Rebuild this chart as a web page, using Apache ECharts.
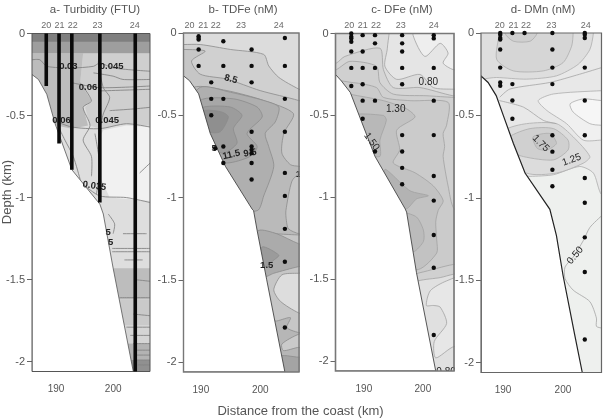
<!DOCTYPE html>
<html>
<head>
<meta charset="utf-8">
<style>html,body{margin:0;padding:0;background:#fff}#c{width:605px;height:418px}</style>
<script src="https://cdn.jsdelivr.net/npm/echarts@6/dist/echarts.min.js"></script>
</head>
<body>
<div id="c"></div>
<script>
// Transect sections across the continental slope: distance in km, depth in km (negative down).
const depthTicks = [0, -0.5, -1, -1.5, -2];
const distanceTicks = [190, 200];
const panelTitles = ['a- Turbidity (FTU)', 'b- TDFe (nM)', 'c- DFe (nM)', 'd- DMn (nM)'];
const stationNames = ['20', '21', '22', '23', '24'];

// ---- a: turbidity ----
const turbidityFloor = [[184.5,-.25],[185.8,-.28],[187.5,-.37],[189.2,-.55],[192.6,-.83],[198.3,-1.04],[199,-1.10],[201,-1.43],[205.1,-2.06],[184.5,-2.06]];
const turbidityStationAt = [187.4,190.1,192.8,197.8,205.4];
const castKm = [187.4,190,192.6,198.3,205.5];
const castBottom = [-.32,-.67,-.83,-1.03,-2.06];
const turbidityBands = [
  [[184.5,0],[208.5,0],[208.5,-2.06],[184.5,-2.06]],
  [[198,-.65],[199,-.59],[203.7,-.56],[208.5,-.57],[208.5,-1.02],[200.3,-1.0],[198.6,-.89]],
  [[194.9,-.12],[208.5,-.12],[208.5,-.56],[203.7,-.55],[198.3,-.58],[196.3,-.56],[195.3,-.45],[196.6,-.41],[194.3,-.30]],
  [[184.5,-.12],[194.9,-.12],[194.3,-.30],[196.6,-.41],[194.9,-.45],[195.9,-.56],[192.6,-.58],[189.5,-.56],[187.5,-.61],[184.5,-.61]],
  [[184.5,0],[208.5,0],[208.5,-.12],[184.5,-.12]],
  [[184.5,0],[208.5,0],[208.5,-.05],[184.5,-.05]],
  [[195,-1.43],[208.5,-1.43],[208.5,-1.62],[195,-1.62]],
  [[195,-1.62],[208.5,-1.62],[208.5,-1.78],[195,-1.78]],
  [[195,-1.78],[208.5,-1.78],[208.5,-1.89],[195,-1.89]],
  [[195,-1.89],[208.5,-1.89],[208.5,-1.99],[195,-1.99]],
  [[195,-1.99],[208.5,-1.99],[208.5,-2.06],[195,-2.06]]
];
const turbidityShades = ['#dedede','#f1f1f1','#cfcfcf','#bcbcbc','#9e9e9e','#7f7f7f','#bdbdbd','#cacaca','#d5d5d5','#b3b3b3','#909090'];
const turbidityContours = [
  [[184.5,-.16],[186.1,-.16],[187.5,-.20],[192.6,-.21],[197,-.20],[198.3,-.18],[201,-.21],[208.5,-.23]],
  [[197,-.24],[201,-.26],[203,-.28],[208.5,-.28]],
  [[192.6,-.30],[198.3,-.33],[208.5,-.32]],
  [[198.3,-.35],[208.5,-.34]],
  [[194.3,-.30],[196.6,-.41],[194.9,-.45],[196.3,-.56],[194.9,-.65],[196.6,-.75],[196.6,-.87]],
  [[198.3,-.12],[198,-.18],[199,-.33],[200.3,-.39],[199,-.49],[198.3,-.58]],
  [[197.3,-.61],[198.3,-.81],[197.6,-.98]],
  [[200.3,-.47],[205.1,-.46],[208.5,-.45]],
  [[188.9,-.53],[192.6,-.57],[198.3,-.58],[203.7,-.55],[208.5,-.57]],
  [[189.9,-.57],[191.2,-.65],[192.9,-.75],[194.3,-.89]],
  [[194.9,-.92],[198.3,-.99],[203.7,-1.0],[208.5,-1.03]],
  [[206.4,-.85],[208.5,-.79]],
  [[200,-1.1],[201.3,-1.16],[201,-1.22]],
  [[203,-1.22],[207.8,-1.22]],
  [[200.8,-1.31],[208.5,-1.31]],
  [[200.8,-1.33],[208.5,-1.33]],
  [[203.3,-1.38],[207,-1.38]],
  [[205.4,-1.50],[208.5,-1.51]],
  [[202.3,-1.61],[208.5,-1.61]],
  [[205.1,-1.71],[208.5,-1.72]],
  [[203.7,-1.79],[208.5,-1.79]],
  [[204.5,-1.84],[208.5,-1.84]],
  [[205.1,-1.89],[208.5,-1.89]],
  [[205.5,-1.93],[208.5,-1.93]],
  [[205.8,-1.96],[208.5,-1.96]],
  [[205.8,-1.99],[208.5,-1.99]],
  [[206,-2.02],[208.5,-2.02]]
];
const turbidityLabels = [
  ['0.03',191.9,-.20,0],['0.045',200.7,-.20,0],['0.06',195.9,-.33,0],['0.06',190.5,-.53,0],
  ['0.045',199.8,-.53,0],['0.035',197.2,-.93,-8],['5',200,-1.21,0],['5',200.5,-1.27,0]
];

// ---- b: total dissolvable iron ----
const tdfeFloor = [[186.1,-.26],[187.3,-.29],[189.1,-.37],[191.4,-.61],[194.4,-.81],[199.7,-1.07],[200,-1.08],[200.7,-1.2],[202.6,-1.5],[206.2,-2.06],[186.1,-2.06]];
const tdfeStationAt = [187.3,190,192.5,197.5,205];
const tdfeProfiles = [
  [189.1,[-.02,-.03,-.04,-.10,-.20]],
  [191.6,[-.30,-.40,-.50]],
  [192.4,[-.70]],
  [194,[-.05,-.20,-.40,-.69,-.79]],
  [199.6,[-.10,-.20,-.30,-.60,-.69,-.71,-.73,-.79,-.89]],
  [206.2,[-.03,-.20,-.40,-.60,-.85,-.99,-1.19,-1.39,-1.79]]
];
const tdfeBands = [
  [[183,.1],[212,.1],[212,-2.3],[183,-2.3]],
  [[183,-.07],[186.1,-.07],[189.4,-.07],[195.4,-.10],[202,-.13],[203,-.20],[205,-.27],[208.9,-.34],[212,-.38],[212,-2.3],[183,-2.3]],
  [[183,-.10],[186.1,-.10],[190.4,-.11],[187.7,-.17],[189.4,-.25],[194.7,-.28],[201.3,-.35],[208.9,-.41],[212,-.45],[212,-2.3],[183,-2.3]],
  [[183,-.5],[188.1,-.33],[194.7,-.35],[202,-.41],[207.9,-.49],[206,-.61],[205.6,-.73],[207.3,-.80],[209,-.81],[212,-.82],[212,-.88],[209,-.86],[207.6,-.90],[206.4,-1.08],[206.5,-1.14],[206.9,-1.19],[209,-1.22],[212,-1.23],[204.6,-1.22],[201,-1.2],[190,-1.2]],
  [[186,-.5],[189.4,-.33],[195.4,-.36],[202,-.41],[205,-.45],[204.3,-.54],[202.3,-.61],[203,-.69],[204,-.81],[202,-.99],[200.7,-1.08],[189,-1.08]],
  [[189.4,-.41],[196,-.40],[200.7,-.45],[201.7,-.51],[198.7,-.61],[200.7,-.69],[199.3,-.75],[194.7,-.79],[192,-.75],[188,-.6]],
  [[190.1,-.45],[195.4,-.45],[197.7,-.50],[196,-.58],[196.7,-.67],[194,-.73],[191.4,-.69],[189,-.5]],
  [[190.4,-.47],[193.7,-.48],[195,-.51],[193.4,-.60],[191.1,-.60],[189.5,-.5]],
  [[201,-1.2],[204.6,-1.22],[208.9,-1.28],[212,-1.3],[212,-1.41],[208.9,-1.42],[204,-1.46],[202,-1.48],[200,-1.3]],
  [[201.7,-1.3],[205,-1.35],[204,-1.38],[202.3,-1.42],[201,-1.42]],
  [[204,-1.56],[205.6,-1.47],[208.9,-1.46],[212,-1.46],[212,-1.72],[208.9,-1.70],[205.3,-1.63]],
  [[204.6,-1.75],[207.3,-1.73],[206.6,-1.79],[208.9,-1.82],[212,-1.83],[212,-2.3],[203,-2.3],[203.5,-1.75]],
  [[205.6,-1.89],[209,-1.83],[212,-1.82],[212,-1.92],[209,-1.91],[205.9,-1.93]],
  [[205,-1.97],[209,-1.97],[212,-1.97],[212,-2.3],[205,-2.3]]
];
const tdfeShades = ['#dcdcdc','#d0d0d0','#c6c6c6','#bababa','#afafaf','#a7a7a7','#9c9c9c','#8f8f8f','#ababab','#9b9b9b','#dddddd','#b6b6b6','#cacaca','#a4a4a4'];
const tdfeLabels = [
  ['8.5',195.5,-.28,-15],['11.5',195.6,-.74,12],['9.5',199.3,-.73,10],['5',192.2,-.7,0],['1.5',202.6,-1.41,0],['1',208.9,-.86,0]
];

// ---- c: dissolved iron ----
const dfeFloor = [[185.2,-.25],[186.4,-.29],[188.2,-.36],[190.5,-.54],[193.2,-.75],[199.3,-1.07],[199.6,-1.09],[201.6,-1.46],[205.5,-2.06],[185.2,-2.06]];
const dfeStationAt = [188,190.7,193.4,198.4,205.1];
const dfeProfiles = [
  [188.4,[0,-.02,-.03,-.05,-.11,-.21,-.32]],
  [190.7,[-.01,-.11,-.21,-.31,-.41,-.52]],
  [193.2,[-.01,-.06,-.21,-.41,-.72]],
  [198.7,[-.01,-.06,-.11,-.21,-.31,-.62,-.72,-.82,-.92]],
  [205.1,[-.01,-.03,-.21,-.41,-.62,-.87,-1.02,-1.23,-1.43,-1.84]]
];
const dfeBands = [
  [[183,.1],[212,.1],[212,-2.3],[183,-2.3]],
  [[200.9,.1],[200.9,-.01],[203.3,-.14],[206.4,-.06],[208,-.12],[207,-.18],[209,-.22],[212,-.23],[212,-2.3],[183,-2.3],[183,.1]],
  [[195.7,.1],[195.7,-.09],[195.2,-.20],[197.6,-.28],[202.3,-.25],[205,-.33],[209.2,-.34],[212,-.34],[212,-2.3],[183,-2.3],[183,.1]],
  [[183,-.2],[185.4,-.18],[187.1,-.14],[194.2,-.09],[194.9,-.22],[196.9,-.33],[202.3,-.33],[209,-.38],[212,-.38],[212,-2.3],[183,-2.3]],
  [[183,-.24],[185.4,-.22],[188.1,-.17],[193.5,-.2],[194.2,-.3],[196.9,-.37],[203.7,-.38],[209.2,-.39],[212,-.39],[212,-2.3],[183,-2.3]],
  [[183,-.3],[188.8,-.3],[193.5,-.33],[194.9,-.39],[200.3,-.41],[208,-.42],[207.7,-.56],[207,-.61],[207.3,-.69],[207,-.75],[208,-.93],[209.2,-1.07],[212,-1.1],[212,-1.41],[209,-1.41],[202.3,-1.46],[195,-1.5],[183,-1]],
  [[202,-1.51],[206.4,-1.49],[209,-1.47],[212,-1.46],[212,-2.3],[190,-2.3],[195,-1.6]],
  [[203.6,-1.66],[204.4,-1.57],[207.7,-1.51],[212,-1.48],[212,-1.95],[209.3,-1.91],[205.5,-1.98],[205.2,-1.88],[207.7,-1.77],[206.4,-1.67],[205,-1.66]],
  [[183,-.33],[188.1,-.37],[194.9,-.41],[199.6,-.46],[201.3,-.51],[197.6,-.59],[198.2,-.71],[196.9,-.79],[201.3,-.85],[205,-.93],[207,-1.02],[206,-1.08],[205.5,-1.15],[205.7,-1.26],[205.7,-1.34],[202,-1.44],[190,-1.44],[183,-1]],
  [[188,-.5],[194.9,-.5],[195.5,-.53],[194.2,-.65],[194.2,-.75],[191.1,-.73],[188,-.6]],
  [[195.2,-.83],[200.3,-.96],[204,-.99],[201.6,-1.01],[199.6,-1.07],[197,-1.05]],
  [[201.6,-1.12],[203,-1.2],[203,-1.27],[200.9,-1.33],[199,-1.1]]
];
const dfeShades = ['#eeeeee','#e5e5e5','#dcdcdc','#d5d5d5','#d0d0d0','#cbcbcb','#e0e0e0','#e7e7e7','#c2c2c2','#b8b8b8','#b3b3b3','#bbbbbb'];
const dfeLabels = [
  ['0.80',204,-.3,0],['1.30',197.4,-.46,0],['1.50',192.5,-.66,-55],['0.80',207.6,-2.07,0]
];

// ---- d: dissolved manganese ----
const dmnFloor = [[185.4,-.26],[186.8,-.30],[188.4,-.38],[189.8,-.5],[191.8,-.67],[194.1,-.85],[199,-1.07],[200.3,-1.23],[201.6,-1.47],[203.9,-1.83],[205.4,-2.06],[185.4,-2.06]];
const dmnStationAt = [189.1,191.8,194.3,199.3,206.1];
const dmnProfiles = [
  [189.2,[0,-.01,-.03,-.04,-.10,-.21,-.30,-.32]],
  [191.6,[0,-.31,-.41,-.52]],
  [194,[0]],
  [199.5,[0,-.10,-.21,-.31,-.62,-.72,-.83,-.93]],
  [205.9,[0,-.01,-.03,-.21,-.41,-.62,-.88,-1.03,-1.24,-1.45,-1.86]]
];
const dmnBands = [
  [[183,.1],[212,.1],[212,-2.3],[183,-2.3]],
  [[195.1,-.87],[199.7,-.86],[204.9,-.81],[207.6,-.85],[209.2,-.98],[212,-1.0],[212,-2.3],[185,-2.3],[190,-.87]],
  [[212,-.35],[209.2,-.35],[199.7,-.37],[196.7,-.41],[198.4,-.47],[202.3,-.55],[205.6,-.65],[209.2,-.65],[212,-.65]],
  [[203,-.43],[205.6,-.4],[209.2,-.41],[212,-.41],[212,-.56],[209.2,-.56],[206.9,-.55],[203.6,-.48]],
  [[207.6,.1],[207.6,0],[206.9,-.1],[204.6,-.19],[200.3,-.26],[194.4,-.28],[188.5,-.27],[183,-.27],[183,.1]],
  [[203.6,.1],[203.6,0],[203.3,-.08],[201.6,-.18],[197.7,-.23],[191.8,-.23],[188.5,-.16],[189,0],[189,.1]],
  [[190.1,.1],[190.1,0],[191.8,-.05],[195.1,-.05],[196.5,0],[196.5,.1]],
  [[190.1,-.59],[194.4,-.55],[200.3,-.55],[203.6,-.63],[206.9,-.75],[205.6,-.79],[200.3,-.85],[194.4,-.85],[189,-.7]],
  [[191,-.63],[195.1,-.58],[199.7,-.58],[202.6,-.65],[202.6,-.71],[199.7,-.77],[193.8,-.75],[190,-.7]],
  [[195.7,-.63],[199,-.61],[200.3,-.67],[198.4,-.71],[196.5,-.7]]
];
const dmnShades = ['#e8e8e8','#eef0ee','#f0f0f0','#f6f6f6','#dedede','#d6d6d6','#cfcfcf','#dcdcdc','#d0d0d0','#c6c6c6'];
const dmnContours = [
  [[209.2,-.21],[204.9,-.25],[199,-.3],[191.1,-.34],[189.1,-.39]],
  [[189,-.41],[193.8,-.45],[197.7,-.53],[200.3,-.55]],
  [[209.2,-1.11],[206.9,-1.18],[205.6,-1.26],[203.6,-1.36],[202,-1.42],[202,-1.49],[203.6,-1.56],[206.9,-1.63],[208.2,-1.73],[208.2,-1.78],[209.2,-1.79]]
];
const dmnLabels = [
  ['1.75',197.2,-.67,-45],['1.25',203.3,-.77,20],['0.50',204,-1.35,50]
];

// Panel geometry and the offset of each distance label from its tick.
const depthExtent = [-2.06, 0];
const panels = [
  {box:{left:32,top:33.5,width:118,height:338},   km:[184.5,208.5], bands:turbidityBands, shades:turbidityShades, floor:turbidityFloor, names:turbidityStationAt, labels:turbidityLabels, contours:turbidityContours, smooth:0,    stroke:null,     shift:[-3,5],      titleX:95,  frame:'#555',width:1,  floorInk:'#555', floorWidth:.8, labelFont:'bold 9.5px '},
  {box:{left:183.5,top:33,width:115.5,height:339},km:[186.1,209],   bands:tdfeBands,      shades:tdfeShades,      floor:tdfeFloor,      names:tdfeStationAt,      labels:tdfeLabels,      contours:[],               smooth:.25,  stroke:'#8c8c8c',shift:[-2.3,6.7],  titleX:243, frame:'#777',width:1.4,floorInk:'#444', floorWidth:.9, labelFont:'bold 9.5px ', profiles:tdfeProfiles},
  {box:{left:335.5,top:33.5,width:118.5,height:337.5},km:[185.2,209.2],bands:dfeBands,    shades:dfeShades,       floor:dfeFloor,       names:dfeStationAt,       labels:dfeLabels,       contours:[],               smooth:.25,  stroke:'#a2a2a2',shift:[4.7,14.3], titleX:402, frame:'#777',width:1.6,floorInk:'#444', floorWidth:.9, labelFont:'10px ', profiles:dfeProfiles},
  {box:{left:481,top:33,width:120.5,height:339.5},km:[185.4,209.2], bands:dmnBands,       shades:dmnShades,       floor:dmnFloor,       names:dmnStationAt,       labels:dmnLabels,       contours:dmnContours,      smooth:.25,  stroke:'#adadad',shift:[-1.3,8],   titleX:543, frame:'#666',width:1.2,floorInk:'#222', floorWidth:1.2, labelFont:'10px ', profiles:dmnProfiles}
];

const inkGrey = '#555';
const fontName = '"Liberation Sans", Arial, sans-serif';

// Filled contour bands, with an optional outline on every band.
function bandSeries(p, i) {
  return {
    type:'custom', xAxisIndex:i, yAxisIndex:i, clip:true, silent:true,
    data:p.bands.map(b => b[0]),
    renderItem:(params, api) => ({
      type:'polygon',
      shape:{points:p.bands[params.dataIndex].map(pt => api.coord(pt)), smooth:p.smooth},
      style:{fill:p.shades[params.dataIndex], stroke:p.stroke, lineWidth:.8}
    })
  };
}
// Open contour lines that do not bound a fill.
function contourSeries(p, i) {
  return {
    type:'custom', xAxisIndex:i, yAxisIndex:i, clip:true, silent:true,
    data:p.contours.map(c => c[0]),
    renderItem:(params, api) => ({
      type:'polyline',
      shape:{points:p.contours[params.dataIndex].map(pt => api.coord(pt)), smooth:.25},
      style:{fill:null, stroke:i === 0 ? '#858585' : '#a4a4a4', lineWidth:i === 0 ? .9 : .8}
    })
  };
}
// The sea floor: everything below the slope is left blank.
function floorSeries(p, i) {
  return {
    type:'custom', xAxisIndex:i, yAxisIndex:i, clip:true, silent:true,
    data:[p.floor[0]],
    renderItem:(params, api) => ({
      type:'polygon',
      shape:{points:p.floor.map(pt => api.coord(pt))},
      style:{fill:'#fff', stroke:p.floorInk, lineWidth:p.floorWidth}
    })
  };
}
// Contour values placed along the lines, cut off at the frame.
function labelSeries(p, i) {
  return {
    type:'custom', xAxisIndex:i, yAxisIndex:i, clip:true, silent:true,
    data:p.labels.map(l => [l[1], l[2]]),
    renderItem:(params, api) => {
      const l = p.labels[params.dataIndex];
      const at = api.coord([l[1], l[2]]);
      return {
        type:'text', x:at[0], y:at[1], rotation:l[3] * Math.PI / 180,
        style:{text:l[0], fill:'#222', font:p.labelFont + fontName, align:'center', verticalAlign:'middle'}
      };
    }
  };
}
// Outline of the panel, drawn over the fills.
function frameSeries(p, i) {
  return {
    type:'custom', xAxisIndex:i, yAxisIndex:i, silent:true,
    data:[[p.km[0], depthExtent[1]]],
    renderItem:(params, api) => ({
      type:'polygon',
      shape:{points:[[p.km[0],depthExtent[1]],[p.km[1],depthExtent[1]],[p.km[1],depthExtent[0]],[p.km[0],depthExtent[0]]].map(pt => api.coord(pt))},
      style:{fill:null, stroke:p.frame, lineWidth:p.width}
    })
  };
}
// Station numbers above the top edge.
function stationSeries(p, i) {
  return {
    type:'scatter', xAxisIndex:i, yAxisIndex:i, silent:true, symbolSize:1, clip:false,
    itemStyle:{color:'transparent'},
    data:p.names.map((km, k) => ({value:[km, 0], name:stationNames[k]})),
    label:{show:true, position:'inside', offset:[0,-7.5], formatter:'{b}', color:'#444', fontSize:9, fontFamily:fontName}
  };
}
// Water samples as black dots.
function sampleSeries(p, i) {
  return {
    type:'scatter', xAxisIndex:i, yAxisIndex:i, silent:true, symbolSize:4.4,
    itemStyle:{color:'#0c0c0c', opacity:1},
    data:p.profiles.flatMap(([km, depths]) => depths.map(d => [km, d]))
  };
}
// Turbidity casts as heavy vertical bars.
const castSeries = castKm.map((km, k) => ({
  type:'line', xAxisIndex:0, yAxisIndex:0, silent:true, symbol:'none',
  lineStyle:{color:'#0a0a0a', width:3.6},
  data:[[km, 0], [km, castBottom[k]]]
}));

const series = [];
panels.forEach((p, i) => {
  series.push(bandSeries(p, i));
  if (p.contours.length) series.push(contourSeries(p, i));
  series.push(floorSeries(p, i));
  if (p.profiles) series.push(sampleSeries(p, i));
  else series.push(...castSeries);
  series.push(labelSeries(p, i), frameSeries(p, i), stationSeries(p, i));
});

const option = {
  animation:false,
  backgroundColor:'#fff',
  title:panels.map((p, i) => ({
    text:panelTitles[i], left:p.titleX, top:4, padding:0, textAlign:'center',
    textStyle:{color:inkGrey, fontSize:11.5, fontWeight:'normal', fontFamily:fontName}
  })),
  grid:panels.map(p => ({left:p.box.left, top:p.box.top, width:p.box.width, height:p.box.height})),
  xAxis:panels.map((p, i) => ({
    type:'value', gridIndex:i, min:p.km[0], max:p.km[1], splitLine:{show:false},
    axisLine:{show:false},
    axisTick:{show:true, customValues:distanceTicks, length:5, lineStyle:{color:'#666'}},
    axisLabel:{
      customValues:distanceTicks, margin:13, color:inkGrey, fontSize:10, fontFamily:fontName, hideOverlap:false,
      formatter:v => (v === 190 ? '{a|190}' : '{b|200}'),
      rich:{
        a:{color:inkGrey, fontSize:10, padding:p.shift[0] < 0 ? [0,-2*p.shift[0],0,0] : [0,0,0,2*p.shift[0]]},
        b:{color:inkGrey, fontSize:10, padding:[0,0,0,2*p.shift[1]]}
      }
    }
  })),
  yAxis:panels.map((p, i) => ({
    type:'value', gridIndex:i, min:depthExtent[0], max:depthExtent[1], splitLine:{show:false},
    axisLine:{show:false},
    axisTick:{show:true, customValues:depthTicks, length:5, lineStyle:{color:'#666'}},
    axisLabel:{customValues:depthTicks, margin:7, color:inkGrey, fontSize:11, fontFamily:fontName, formatter:v => String(v)}
  })),
  graphic:[
    {type:'text', x:7, y:192, rotation:Math.PI/2, style:{text:'Depth (km)', fill:inkGrey, font:'13px ' + fontName, align:'center', verticalAlign:'middle'}},
    {type:'text', x:300.5, y:411.5, style:{text:'Distance from the coast (km)', fill:inkGrey, font:'13px ' + fontName, align:'center', verticalAlign:'middle'}}
  ],
  series
};
echarts.init(document.getElementById('c'), null, {renderer:'canvas'}).setOption(option);
</script>
</body>
</html>
